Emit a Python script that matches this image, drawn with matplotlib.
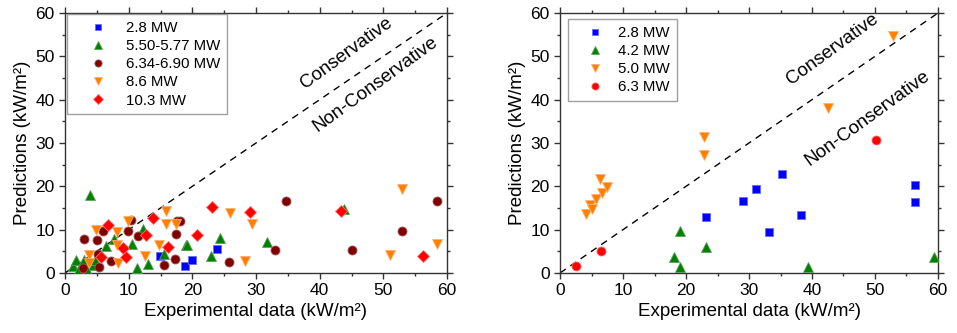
import matplotlib
matplotlib.use("Agg")
import matplotlib.pyplot as plt
from matplotlib.ticker import MultipleLocator

plt.rcParams['font.family'] = ['Liberation Sans', 'DejaVu Sans']

# ---- Left panel data ----
L_labels = ["2.8 MW", "5.50-5.77 MW", "6.34-6.90 MW", "8.6 MW", "10.3 MW"]
L_28_x = [14.9, 18.9, 20.0, 23.9]
L_28_y = [4.0, 1.6, 3.0, 5.5]
L_55_x = [1.3, 1.8, 3.0, 4.2, 4.7, 3.9, 6.5, 7.7, 10.5, 11.3, 12.3, 13.1, 15.6, 19.0, 19.1, 22.9, 24.4, 31.8, 43.9, 2.2, 3.5]
L_55_y = [1.6, 3.0, 3.0, 1.9, 3.0, 18.1, 6.3, 7.8, 6.8, 1.1, 10.1, 2.1, 4.5, 6.5, 6.5, 4.0, 8.1, 7.1, 14.7, 1.0, 0.8]
L_63_x = [2.9, 3.0, 5.1, 5.2, 5.4, 6.0, 7.3, 9.9, 10.3, 11.4, 15.5, 17.2, 17.4, 17.6, 18.0, 25.8, 33.0, 34.7, 45.0, 53.0, 58.5]
L_63_y = [1.1, 7.8, 7.7, 4.4, 1.5, 9.8, 2.7, 9.6, 12.2, 8.5, 1.9, 3.2, 8.9, 11.9, 11.9, 2.5, 5.2, 16.7, 5.2, 9.6, 16.7]
L_86_x = [3.7, 3.7, 4.9, 8.1, 8.1, 8.4, 9.9, 12.6, 14.8, 15.9, 15.9, 17.4, 25.9, 28.3, 29.4, 51.0, 53.0, 58.4]
L_86_y = [4.2, 2.2, 10.0, 9.4, 6.5, 2.4, 11.9, 4.0, 6.5, 14.4, 11.2, 11.2, 13.9, 2.8, 11.2, 4.2, 19.5, 6.7]
L_103_x = [5.6, 6.8, 9.1, 9.6, 12.8, 13.8, 16.2, 20.8, 23.1, 29.1, 43.3, 56.3]
L_103_y = [3.8, 11.0, 5.8, 3.8, 8.8, 12.7, 6.1, 8.8, 15.2, 14.1, 14.3, 4.0]

# ---- Right panel data ----
R_labels = ["2.8 MW", "4.2 MW", "5.0 MW", "6.3 MW"]
R_28_x = [23.1, 29.1, 31.1, 33.2, 35.2, 38.2, 56.3, 56.3]
R_28_y = [13.0, 16.7, 19.5, 9.5, 22.8, 13.3, 20.2, 16.4]
R_42_x = [18.1, 19.0, 19.0, 23.2, 39.3, 59.4]
R_42_y = [3.8, 9.6, 1.3, 6.1, 1.3, 3.8]
R_50_x = [4.2, 4.8, 5.0, 5.7, 6.6, 7.4, 6.3, 22.9, 22.9, 42.6, 52.9]
R_50_y = [13.7, 15.8, 14.7, 17.0, 18.5, 19.8, 21.6, 27.2, 31.3, 38.1, 54.8]
R_63_x = [2.5, 6.5, 50.1]
R_63_y = [1.7, 5.0, 30.7]

line_x = [0, 60]
line_y = [0, 60]

fig = plt.figure(figsize=(9.57, 3.33), dpi=100)
axL = fig.add_axes([65/957, 60/333, 382/957, 260/333])
axR = fig.add_axes([560/957, 60/333, 378/957, 260/333])

blue = '#0000FF'; green = '#008000'; brown = '#800000'; orange = '#FF8000'; red = '#FF0000'

def style(ax):
    ax.set_xlim(0, 60)
    ax.set_ylim(0, 60)
    ax.xaxis.set_major_locator(MultipleLocator(10))
    ax.xaxis.set_minor_locator(MultipleLocator(5))
    ax.yaxis.set_major_locator(MultipleLocator(10))
    ax.yaxis.set_minor_locator(MultipleLocator(5))
    ax.tick_params(which='both', direction='out', top=True, right=True,
                   labeltop=False, labelright=False, labelsize=12.5, width=1, color='#333333')
    ax.tick_params(which='major', length=4)
    ax.tick_params(which='minor', length=2.5)
    for s in ax.spines.values():
        s.set_linewidth(1.0)
        s.set_color('#333333')
    ax.set_xlabel('Experimental data (kW/m²)', fontsize=13.5, labelpad=3)
    ax.set_ylabel('Predictions (kW/m²)', fontsize=13.5, labelpad=3)
    ax.plot(line_x, line_y, color='black', linestyle=(0, (5, 4)), linewidth=1.0, zorder=1)

ms = dict(linestyle='none', markeredgewidth=0.6, zorder=3)

axL.plot(L_28_x, L_28_y, 's', color=blue, markersize=5.5, markeredgecolor='#6a6aff', label=L_labels[0], **ms)
axL.plot(L_55_x, L_55_y, '^', color=green, markersize=7, markeredgecolor='#5aa05a', label=L_labels[1], **ms)
axL.plot(L_63_x, L_63_y, 'o', color=brown, markersize=6.5, markeredgecolor='#a05a5a', label=L_labels[2], **ms)
axL.plot(L_86_x, L_86_y, 'v', color=orange, markersize=7.5, markeredgecolor='#ffb070', label=L_labels[3], **ms)
axL.plot(L_103_x, L_103_y, 'D', color=red, markersize=6.5, markeredgecolor='#ff7070', label=L_labels[4], **ms)
style(axL)

axR.plot(R_28_x, R_28_y, 's', color=blue, markersize=5.5, markeredgecolor='#6a6aff', label=R_labels[0], **ms)
axR.plot(R_42_x, R_42_y, '^', color=green, markersize=7, markeredgecolor='#5aa05a', label=R_labels[1], **ms)
axR.plot(R_50_x, R_50_y, 'v', color=orange, markersize=7.5, markeredgecolor='#ffb070', label=R_labels[2], **ms)
axR.plot(R_63_x, R_63_y, 'o', color=red, markersize=6.5, markeredgecolor='#ff7070', label=R_labels[3], **ms)
style(axR)

rot = 36
axL.text(44.2, 50.8, 'Conservative', rotation=rot, ha='center', va='center', fontsize=13.5, rotation_mode='anchor')
axL.text(48.7, 43.5, 'Non-Conservative', rotation=rot, ha='center', va='center', fontsize=13.5, rotation_mode='anchor')
axR.text(43.3, 51.6, 'Conservative', rotation=rot, ha='center', va='center', fontsize=13.5, rotation_mode='anchor')
axR.text(48.8, 35.6, 'Non-Conservative', rotation=rot, ha='center', va='center', fontsize=13.5, rotation_mode='anchor')

def leg(ax, bbox, hl, tp):
    lg = ax.legend(loc='upper left', bbox_to_anchor=bbox, fontsize=10.8, frameon=True, fancybox=False,
                   edgecolor='#888888', handlelength=hl, handletextpad=tp, borderpad=0.45,
                   labelspacing=0.28, borderaxespad=0, markerscale=0.8)
    lg.get_frame().set_linewidth(1.0)
    return lg

leg(axL, (2/382, 1 - 1/260), 3.2, 0.25)
leg(axR, (8/378, 1 - 6/260), 2.7, 0.2)

fig.savefig('out.png', dpi=100)
